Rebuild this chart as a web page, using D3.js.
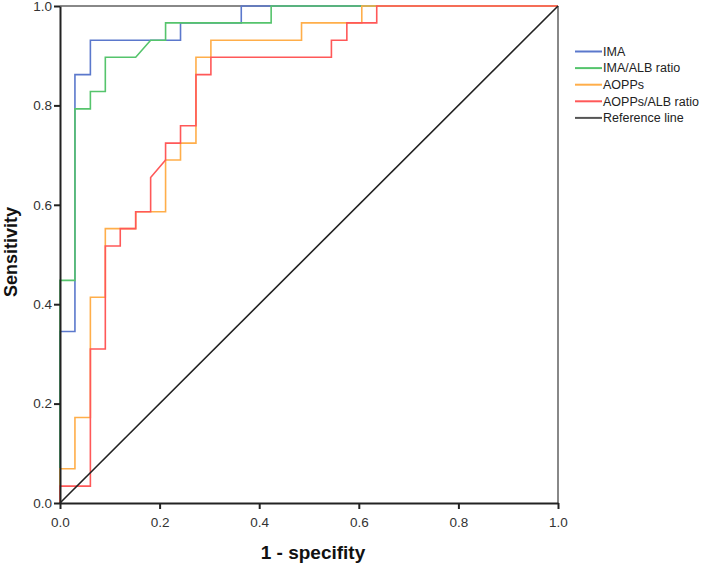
<!DOCTYPE html>
<html><head><meta charset="utf-8">
<script src="https://cdn.jsdelivr.net/npm/d3@7"></script>
<style>body{margin:0;background:#fff;}svg{display:block;font-family:"Liberation Sans",Arial,sans-serif;}</style>
</head><body><svg id="c" width="710" height="565"></svg>
<script>
const seriesNames = ["IMA", "IMA/ALB ratio", "AOPPs", "AOPPs/ALB ratio"];
const seriesColors = ["#5b78cc", "#55c46c", "#ffae4a", "#ff5858"];
const imaX = [0,0,0.030,0.030,0.061,0.061,0.242,0.242,0.364,0.364,1];
const imaY = [0,0.345,0.345,0.862,0.862,0.931,0.931,0.966,0.966,1,1];
const imaAlbX = [0,0,0.030,0.030,0.061,0.061,0.091,0.091,0.152,0.182,0.212,0.212,0.424,0.424,1];
const imaAlbY = [0,0.448,0.448,0.793,0.793,0.828,0.828,0.897,0.897,0.931,0.931,0.966,0.966,1,1];
const aoppsX = [0,0,0.030,0.030,0.061,0.061,0.091,0.091,0.152,0.152,0.212,0.212,0.242,0.242,0.273,0.273,0.303,0.303,0.485,0.485,0.606,0.606,1];
const aoppsY = [0,0.069,0.069,0.172,0.172,0.414,0.414,0.552,0.552,0.586,0.586,0.690,0.690,0.724,0.724,0.897,0.897,0.931,0.931,0.966,0.966,1,1];
const aoppsAlbX = [0,0,0.061,0.061,0.091,0.091,0.121,0.121,0.152,0.152,0.182,0.182,0.212,0.212,0.242,0.242,0.273,0.273,0.303,0.303,0.545,0.545,0.576,0.576,0.636,0.636,1];
const aoppsAlbY = [0,0.034,0.034,0.310,0.310,0.517,0.517,0.552,0.552,0.586,0.586,0.655,0.690,0.724,0.724,0.759,0.759,0.862,0.862,0.897,0.897,0.931,0.931,0.966,0.966,1,1];
const refX = [0,1];
const refY = [0,1];
const tickValues = [0,0.2,0.4,0.6,0.8,1.0];

const svg = d3.select("#c");
const x = d3.scaleLinear().domain([0,1]).range([60,558]);
const y = d3.scaleLinear().domain([0,1]).range([503,6]);
const line = d3.line().x(d=>x(d[0])).y(d=>y(d[1]));

// frame (top and right)
svg.append("line").attr("x1",x(0)).attr("x2",x(1)).attr("y1",y(1)).attr("y2",y(1)).attr("stroke","#888").attr("stroke-width",2);
svg.append("line").attr("x1",x(1)).attr("x2",x(1)).attr("y1",y(1)).attr("y2",y(0)).attr("stroke","#888").attr("stroke-width",2);

const xs = [imaX, imaAlbX, aoppsX, aoppsAlbX];
const ys = [imaY, imaAlbY, aoppsY, aoppsAlbY];
xs.forEach((xa,i)=>{
  const pts = xa.map((v,j)=>[v, ys[i][j]]);
  svg.append("path").attr("d", line(pts)).attr("fill","none").attr("stroke",seriesColors[i]).attr("stroke-width",1.6);
});
svg.append("path").attr("d", line(refX.map((v,j)=>[v,refY[j]]))).attr("fill","none").attr("stroke","#222").attr("stroke-width",1.6);

// axes
const xAxis = svg.append("g").attr("transform",`translate(0,${y(0)})`).call(d3.axisBottom(x).tickValues(tickValues).tickFormat(d3.format(".1f")).tickSize(6).tickSizeOuter(0));
const yAxis = svg.append("g").attr("transform",`translate(${x(0)},0)`).call(d3.axisLeft(y).tickValues(tickValues).tickFormat(d3.format(".1f")).tickSize(6).tickSizeOuter(0));
[xAxis,yAxis].forEach(g=>{
  g.select(".domain").attr("stroke","#222").attr("stroke-width",2);
  g.selectAll(".tick line").attr("stroke","#222").attr("stroke-width",2);
  g.selectAll(".tick text").attr("fill","#333").style("font-size","13.5px").style("font-family","'Liberation Sans',Arial,sans-serif");
});
xAxis.selectAll(".tick text").attr("dy","1.1em");
yAxis.selectAll(".tick text").attr("x",-8);

// titles
svg.append("text").attr("x",313).attr("y",559).attr("text-anchor","middle").style("font-size","19px").style("font-weight","bold").attr("fill","#111").text("1 - specifity");
svg.append("text").attr("transform","translate(17,252) rotate(-90)").attr("text-anchor","middle").style("font-size","18px").style("font-weight","bold").attr("fill","#111").text("Sensitivity");

// legend
const legNames = seriesNames.concat(["Reference line"]);
const legColors = seriesColors.concat(["#555"]);
legNames.forEach((n,i)=>{
  const yy = 51.5 + i*16.6;
  svg.append("line").attr("x1",575).attr("x2",602).attr("y1",yy).attr("y2",yy).attr("stroke",legColors[i]).attr("stroke-width",2);
  svg.append("text").attr("x",603).attr("y",yy).attr("dy","0.35em").style("font-size","12.5px").attr("fill","#222").text(n);
});
</script></body></html>
